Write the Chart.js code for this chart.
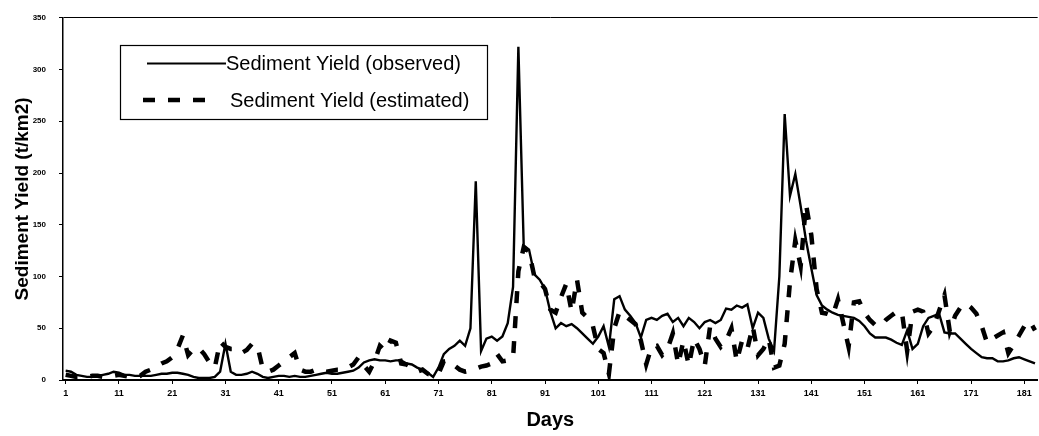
<!DOCTYPE html>
<html>
<head>
<meta charset="utf-8">
<script src="https://cdn.jsdelivr.net/npm/chart.js@4/dist/chart.umd.min.js"></script>
<style>
html,body{margin:0;padding:0;background:#fff;}
canvas{display:block;}
</style>
</head>
<body>
<canvas id="c" width="1039" height="436"></canvas>
<script>
const days = Array.from({length: 183}, (_, i) => String(i + 1));

const observed = [
 9, 8, 5, 4, 3, 3, 4, 5, 6, 8,
 7, 5, 5, 4, 4, 4, 4, 5, 6, 6,
 7, 7, 6, 5, 3, 2, 2, 2, 3, 8,
 35, 8, 5, 5, 6, 8, 6, 3, 2, 3,
 4, 4, 3, 4, 3, 3, 4, 5, 6, 7,
 6, 6, 7, 8, 9, 12, 17, 19, 20, 19,
 19, 18, 19, 19, 16, 15, 12, 10, 7, 3,
 12, 25, 30, 33, 38, 33, 50, 192, 28, 40,
 42, 38, 42, 55, 90, 322, 130, 126, 102, 97,
 88, 66, 50, 55, 52, 54, 50, 45, 40, 35,
 42, 52, 32, 78, 81, 68, 62, 55, 41, 58,
 60, 58, 62, 64, 56, 60, 52, 60, 56, 50,
 56, 58, 55, 58, 69, 68, 72, 70, 73, 50,
 65, 60, 40, 28, 100, 257, 178, 199, 168, 135,
 108, 82, 72, 68, 65, 63, 62, 61, 60, 57,
 52, 45, 41, 41, 41, 39, 36, 34, 48, 30,
 35, 52, 60, 62, 64, 46, 45, 45, 40, 35,
 30, 26, 22, 21, 21, 18, 18, 19, 21, 22,
 20, 18, 16
];

const estimated = [
 5, 4, 3, 3, 3, 4, 4, 3, 3, 4,
 5, 4, 3, 3, 4, 8, 10, 13, 16, 18,
 22, 30, 43, 24, 30, 31, 25, 17, 12, 37,
 32, 30, 30, 26, 29, 35, 33, 11, 8, 10,
 14, 18, 22, 26, 10, 8, 8, 10, 8, 8,
 9, 10, 10, 12, 15, 22, 14, 8, 18, 33,
 28, 38, 36, 16, 15, 12, 8, 10, 6, 4,
 6, 18, 19, 14, 10, 8, 9, 11, 13, 14,
 16, 25, 18, 19, 21, 105, 128, 124, 100, 95,
 88, 68, 65, 80, 93, 66, 97, 65, 60, 52,
 30, 26, 6, 50, 66, 62, 58, 54, 38, 15,
 32, 33, 24, 30, 45, 15, 38, 14, 40, 30,
 14, 52, 40, 32, 38, 50, 18, 38, 30, 52,
 24, 30, 40, 12, 14, 35, 95, 135, 110, 170,
 140, 88, 65, 64, 62, 78, 55, 32, 75, 76,
 65, 58, 53, 52, 58, 62, 66, 66, 28, 66,
 68, 66, 45, 52, 67, 82, 47, 62, 70, 74,
 70, 64, 52, 36, 40, 43, 46, 26, 34, 43,
 52, 57, 48
];

const seriesNames = ['Sediment Yield (observed)', 'Sediment Yield (estimated)'];
const yTitle = 'Sediment Yield (t/km2)';
const xTitle = 'Days';

const FONT = "'Liberation Sans', Arial, sans-serif";

const legendPlugin = {
  id: 'boxLegend',
  afterDraw(chart) {
    const ctx = chart.ctx;
    ctx.save();
    ctx.fillStyle = '#fff';
    ctx.fillRect(120, 45, 367, 74);
    ctx.strokeStyle = '#000';
    ctx.lineWidth = 1.2;
    ctx.strokeRect(120.5, 45.5, 367, 74);
    ctx.beginPath();
    ctx.lineWidth = 1.8;
    ctx.moveTo(147, 63.5);
    ctx.lineTo(226, 63.5);
    ctx.stroke();
    ctx.beginPath();
    ctx.lineWidth = 4.5;
    ctx.setLineDash([12, 13]);
    ctx.moveTo(143, 100);
    ctx.lineTo(209, 100);
    ctx.stroke();
    ctx.setLineDash([]);
    ctx.fillStyle = '#000';
    ctx.font = "20px " + FONT;
    ctx.textBaseline = 'middle';
    ctx.textAlign = 'left';
    ctx.fillText(chart.data.datasets[0].label, 226, 64);
    ctx.fillText(chart.data.datasets[1].label, 230, 101);
    ctx.restore();
  }
};

const bgPlugin = {
  id: 'bg',
  beforeDraw(chart) {
    const ctx = chart.ctx;
    ctx.save();
    ctx.fillStyle = '#fff';
    ctx.fillRect(0, 0, chart.width, chart.height);
    ctx.restore();
  }
};

new Chart(document.getElementById('c'), {
  type: 'line',
  data: {
    labels: days,
    datasets: [
      {
        label: seriesNames[0],
        data: observed,
        borderColor: '#000',
        borderWidth: 2.4,
        pointRadius: 0,
        tension: 0,
        fill: false
      },
      {
        label: seriesNames[1],
        data: estimated,
        borderColor: '#000',
        borderWidth: 4.5,
        borderDash: [12, 13],
        borderCapStyle: 'butt',
        pointRadius: 0,
        tension: 0,
        fill: false
      }
    ]
  },
  options: {
    responsive: false,
    animation: false,
    devicePixelRatio: 1,
    layout: { padding: { top: 13, right: 1, left: 0, bottom: 0 } },
    plugins: {
      legend: { display: false },
      tooltip: { enabled: false }
    },
    scales: {
      x: {
        type: 'category',
        offset: true,
        afterFit(scale) { scale.height = 56; },
        border: { display: true, color: '#000', width: 2 },
        grid: {
          drawOnChartArea: false,
          drawTicks: true,
          tickLength: 4,
          tickColor: (c) => (c.index % 10 === 0 ? '#000' : 'rgba(0,0,0,0)')
        },
        ticks: {
          autoSkip: false,
          maxRotation: 0,
          minRotation: 0,
          padding: 4,
          color: '#000',
          font: { family: FONT, size: 9, weight: 'bold' },
          callback: (val, idx) => (idx % 10 === 0 ? days[idx] : '')
        },
        title: {
          display: true,
          text: xTitle,
          color: '#000',
          font: { family: FONT, size: 20, weight: 'bold' },
          padding: { top: 0, bottom: 4 }
        }
      },
      y: {
        min: 0,
        max: 350,
        afterFit(scale) { scale.width = 63; },
        border: { display: true, color: '#000', width: 1.5 },
        grid: {
          drawOnChartArea: true,
          drawTicks: true,
          tickLength: 4,
          tickColor: '#000',
          color: (c) => (c.tick && c.tick.value === 350 ? '#000' : 'rgba(0,0,0,0)'),
          lineWidth: 1
        },
        ticks: {
          stepSize: 50,
          padding: 13,
          color: '#000',
          font: { family: FONT, size: 8, weight: 'bold' }
        },
        title: {
          display: true,
          text: yTitle,
          color: '#000',
          font: { family: FONT, size: 19, weight: 'bold' },
          padding: { top: 11, bottom: 0 }
        }
      }
    }
  },
  plugins: [bgPlugin, legendPlugin]
});
</script>
</body>
</html>
